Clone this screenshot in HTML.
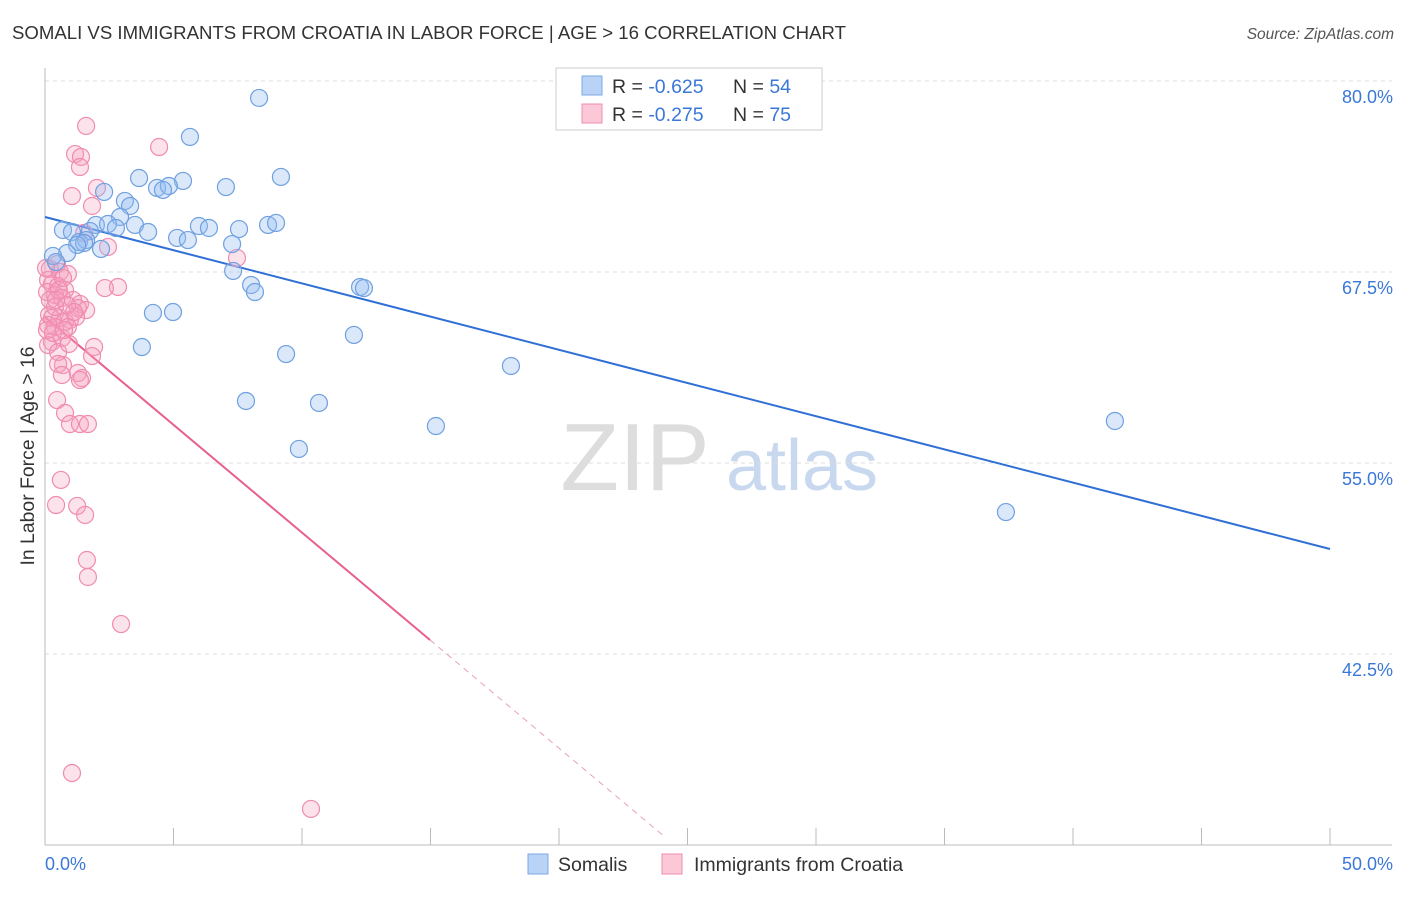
<!DOCTYPE html>
<html><head><meta charset="utf-8"><style>
body{margin:0;background:#fff;font-family:"Liberation Sans",sans-serif}
svg text{font-family:"Liberation Sans",sans-serif}
</style></head><body>
<svg id="chart" width="1406" height="892" viewBox="0 0 1406 892" xmlns="http://www.w3.org/2000/svg">
<text x="12" y="39" font-size="18.6" fill="#333">SOMALI VS IMMIGRANTS FROM CROATIA IN LABOR FORCE | AGE &gt; 16 CORRELATION CHART</text>
<text x="1394" y="39" font-size="15.5" fill="#555" text-anchor="end" font-style="italic">Source: ZipAtlas.com</text>
<text transform="translate(34,456) rotate(-90)" font-size="19.4" fill="#333" text-anchor="middle">In Labor Force | Age &gt; 16</text>
<g><text x="635" y="490" font-size="96" fill="#ddd" font-family="Liberation Serif" text-anchor="middle">ZIP</text><text x="802" y="490" font-size="72" fill="#c8d8ee" text-anchor="middle">atlas</text></g>
<g id="grid"></g><g id="axes"></g><g id="trend"></g><g id="pts"></g>
<g>
<rect x="556" y="68" width="266" height="62" fill="#fff" stroke="#ccc"/>
<rect x="582" y="76" width="20" height="19" fill="#b8d3f5" stroke="#7aaae6"/>
<rect x="582" y="104" width="20" height="19" fill="#fbc8d8" stroke="#f08cb0"/>
<text x="612" y="93" font-size="19.5" fill="#333">R = <tspan fill="#3a78d8">-0.625</tspan></text>
<text x="733" y="93" font-size="19.5" fill="#333">N = <tspan fill="#3a78d8">54</tspan></text>
<text x="612" y="121" font-size="19.5" fill="#333">R = <tspan fill="#3a78d8">-0.275</tspan></text>
<text x="733" y="121" font-size="19.5" fill="#333">N = <tspan fill="#3a78d8">75</tspan></text>
</g>
<g>
<rect x="528" y="854" width="20" height="20" fill="#b8d3f5" stroke="#7aaae6"/>
<text x="558" y="871" font-size="19.5" fill="#333">Somalis</text>
<rect x="662" y="854" width="20" height="20" fill="#fbc8d8" stroke="#f08cb0"/>
<text x="694" y="871" font-size="19.5" fill="#333">Immigrants from Croatia</text>
</g>
</svg>
<script>
const yTicks=[80,67.5,55,42.5];
const yTickLabels=["80.0%","67.5%","55.0%","42.5%"];
const xTickVals=[0,5,10,15,20,25,30,35,40,45,50];
const xEndLabels=["0.0%","50.0%"];
const somaliX=[8.33,5.64,9.18,3.66,5.37,4.36,4.82,4.59,7.04,2.30,3.11,3.31,2.92,1.98,2.45,3.50,2.76,0.70,1.05,1.75,4.01,5.99,6.38,7.55,8.68,8.99,5.14,5.56,7.28,1.32,1.60,1.52,1.25,2.18,0.86,0.31,0.43,7.32,8.02,8.17,12.26,12.41,4.20,4.98,12.02,3.77,9.38,18.13,7.82,10.66,15.21,9.88,41.63,37.39];
const somaliY=[78.89,76.34,73.72,73.65,73.46,73.0,73.13,72.87,73.06,72.74,72.15,71.82,71.1,70.58,70.64,70.58,70.38,70.25,70.12,70.18,70.12,70.51,70.38,70.31,70.58,70.71,69.73,69.59,69.33,69.46,69.59,69.4,69.27,69.01,68.74,68.55,68.15,67.57,66.65,66.19,66.52,66.45,64.82,64.88,63.38,62.59,62.13,61.35,59.06,58.93,57.42,55.92,57.75,51.79];
const croatiaX=[1.60,4.44,1.17,1.40,1.36,2.02,1.05,1.83,1.52,2.45,7.47,0.47,0.19,0.58,0.89,0.12,0.27,0.51,0.78,2.84,2.33,0.08,0.39,0.66,1.09,1.36,1.60,1.28,0.16,0.27,0.58,0.97,0.78,1.21,0.39,0.89,0.12,0.66,0.27,0.12,1.91,0.51,1.83,0.70,0.51,1.28,1.44,1.36,0.66,0.47,0.78,0.97,1.36,1.67,0.62,0.43,1.25,1.56,1.63,1.67,2.96,1.05,10.35,0.19,0.39,0.86,1.13,0.08,0.31,0.93,0.54,0.70,0.04,0.43,0.74];
const croatiaY=[77.06,75.68,75.22,75.03,74.37,73.0,72.47,71.82,70.05,69.14,68.42,68.02,67.7,67.5,67.37,66.98,66.71,66.58,66.32,66.52,66.45,66.19,65.99,65.8,65.67,65.41,65.01,65.14,64.69,64.49,64.49,64.36,64.23,64.56,63.9,63.9,64.03,63.18,62.92,62.72,62.59,62.26,62.0,61.41,61.48,60.89,60.56,60.43,60.76,59.12,58.27,57.55,57.55,57.55,53.89,52.25,52.19,51.6,48.65,47.54,44.46,34.71,32.36,65.67,65.21,65.34,64.88,63.7,63.51,62.79,66.32,67.11,67.76,65.67,63.7];
const somaliTrend=[71.1,49.37];
const croatiaTrend=[64.55,43.42];
const croatiaSolidEnd=14.98, croatiaDashEnd=24.12;

const NS="http://www.w3.org/2000/svg";
const X0=45,X1=1330,YB=845,YT=68;
const sx=v=>X0+(v/50)*(X1-X0);
const sy=v=>YB-(v-30)/(80-30)*(YB-81);
function mk(tag,attrs,parent){const e=document.createElementNS(NS,tag);for(const k in attrs)e.setAttribute(k,attrs[k]);document.getElementById(parent).appendChild(e);return e;}
yTicks.forEach((t,i)=>{
  const g=mk('line',{x1:X0,x2:1392,y1:sy(t),y2:sy(t),stroke:'#ddd','stroke-dasharray':'4,4'},'grid');
  
  
  const l=mk('text',{x:1393,y:sy(t)+22,'font-size':18,fill:'#3a78d8','text-anchor':'end'},'grid');
  
  
  l.textContent=yTickLabels[i];
});
const ax=mk('line',{x1:X0,x2:X0,y1:YT,y2:YB,stroke:'#bbb'},'axes');


const bx=mk('line',{x1:X0,x2:1392,y1:YB,y2:YB,stroke:'#bbb'},'axes');


xTickVals.forEach(v=>{
  const t=mk('line',{x1:sx(v),x2:sx(v),y1:828,y2:YB,stroke:'#bbb'},'axes');
  
  
});
[[0,'start',X0],[50,'end',1393]].forEach((a,i)=>{
  const t=mk('text',{x:a[2],y:870,'font-size':18,fill:'#3a78d8','text-anchor':a[1]},'axes');
  
  
  t.textContent=xEndLabels[i];
});
const bl=mk('line',{x1:sx(0),y1:sy(somaliTrend[0]),x2:sx(50),y2:sy(somaliTrend[1]),stroke:'#2f6fd6','stroke-width':2},'trend');


const slope=(croatiaTrend[1]-croatiaTrend[0])/croatiaSolidEnd;
const pl=mk('line',{x1:sx(0),y1:sy(croatiaTrend[0]),x2:sx(croatiaSolidEnd),y2:sy(croatiaTrend[1]),stroke:'#e8608e','stroke-width':2},'trend');


const pd=mk('line',{x1:sx(croatiaSolidEnd),y1:sy(croatiaTrend[1]),x2:sx(croatiaDashEnd),y2:sy(croatiaTrend[0]+slope*croatiaDashEnd),stroke:'#e8a0b8','stroke-width':1,'stroke-dasharray':'6,5'},'trend');


croatiaX.forEach((x,i)=>{
  const c=mk('circle',{cx:sx(x),cy:sy(croatiaY[i]),r:8.5,fill:'rgba(245,160,190,0.3)',stroke:'#f08cb0','stroke-width':1.2},'pts');
  
  
});
somaliX.forEach((x,i)=>{
  const c=mk('circle',{cx:sx(x),cy:sy(somaliY[i]),r:8.5,fill:'rgba(150,190,240,0.35)',stroke:'#6fa0e0','stroke-width':1.2},'pts');
  
  
});
</script>
</body></html>
